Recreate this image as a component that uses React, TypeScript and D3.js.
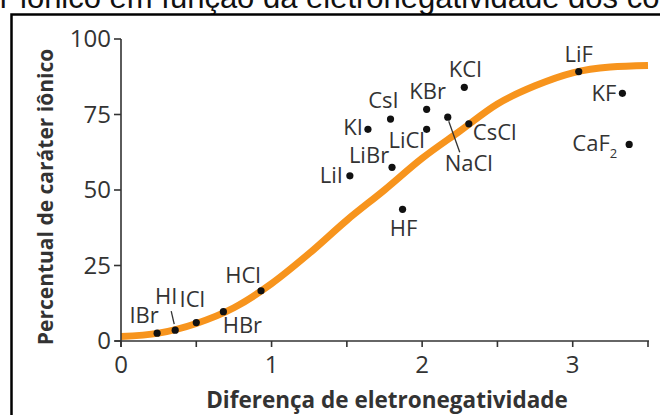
import React from "react";
import * as d3 from "d3";

// ---- data ----
const compounds = ["IBr", "HI", "ICl", "HBr", "HCl", "LiI", "LiBr", "KI", "CsI", "KBr", "LiCl", "NaCl", "KCl", "CsCl", "HF", "LiF", "KF", "CaF2"];
const enDiff = [0.24, 0.36, 0.5, 0.68, 0.93, 1.52, 1.8, 1.64, 1.79, 2.03, 2.03, 2.17, 2.28, 2.31, 1.87, 3.04, 3.33, 3.375];
const ionicPct = [2.6, 3.6, 6.1, 9.7, 16.6, 54.7, 57.5, 70.1, 73.5, 76.7, 70.1, 74.1, 84.0, 71.9, 43.6, 89.2, 82.0, 65.1];

const curveX = [0, 0.25, 0.5, 0.75, 1.0, 1.25, 1.5, 1.75, 2.0, 2.25, 2.5, 2.75, 3.0, 3.25, 3.5];
const curveY = [1.5, 2.6, 5.8, 11, 19, 29, 40, 50, 60.5, 69.5, 78.5, 84.5, 88.8, 90.7, 91.2];

const xTicks = [0, 0.5, 1, 1.5, 2, 2.5, 3, 3.5];
const xTickLabels = ["0", "", "1", "", "2", "", "3", ""];
const yTicks = [0, 25, 50, 75, 100];

const xTitle = "Diferença de eletronegatividade";
const yTitle = "Percentual de caráter iônico";
const titleHead = "caráter";
const titleTail = "iônico em função da eletronegatividade dos compostos";

// ---- layout (label placement relative to each dot) ----
const labelLayout: Record<string, { dx: number; dy: number; anchor: string; leader?: [number, number, number, number] }> = {
  IBr: { dx: -13, dy: -10, anchor: "middle" },
  HI: { dx: -9, dy: -26, anchor: "middle", leader: [-4, -19, -1, -6] },
  ICl: { dx: -4, dy: -16, anchor: "middle" },
  HBr: { dx: 19, dy: 21, anchor: "middle" },
  HCl: { dx: -18, dy: -8, anchor: "middle" },
  LiI: { dx: -7, dy: 7, anchor: "end" },
  LiBr: { dx: -23, dy: -4, anchor: "middle" },
  KI: { dx: -5, dy: 6, anchor: "end" },
  CsI: { dx: -7, dy: -11, anchor: "middle" },
  KBr: { dx: 1, dy: -10, anchor: "middle" },
  LiCl: { dx: -20, dy: 19, anchor: "middle" },
  NaCl: { dx: 21, dy: 54, anchor: "middle", leader: [1, 4, 12, 35] },
  KCl: { dx: 1, dy: -10, anchor: "middle" },
  CsCl: { dx: 4, dy: 16, anchor: "start" },
  HF: { dx: 1, dy: 27, anchor: "middle" },
  LiF: { dx: 0, dy: -10, anchor: "middle" },
  KF: { dx: -6, dy: 8, anchor: "end" },
  CaF2: { dx: -12, dy: 7, anchor: "end" },
};

const W = 660, H = 415;
const X0 = 121, X1 = 648, Y0 = 341, Y1 = 39;
const TEXT = "#333333";
const ORANGE = "#F7941D";
const LABEL_FONT = "'Open Sans', 'Noto Sans', sans-serif";

export default function App() {
  const x = d3.scaleLinear().domain([0, 3.5]).range([X0, X1]);
  const y = d3.scaleLinear().domain([0, 100]).range([Y0, Y1]);
  const line = d3
    .line<number>()
    .x((_, i) => x(curveX[i]))
    .y((v) => y(v))
    .curve(d3.curveMonotoneX);

  return (
    <svg width={W} height={H} style={{ position: "absolute", left: 0, top: 0, background: "#fff" }}>
      <rect x={0} y={0} width={W} height={H} fill="#fff" />
      {/* cut-off heading */}
      <text x={10} y={8} fontFamily="'Liberation Sans', Arial, sans-serif" fontSize={31} textAnchor="end" fill="#111">{titleHead}</text>
      <text x={20} y={8} fontFamily="'Liberation Sans', Arial, sans-serif" fontSize={31} fill="#111">{titleTail}</text>
      {/* frame */}
      <rect x={11.5} y={14.5} width={800} height={600} fill="none" stroke="#000" strokeWidth={2.5} />

      {/* curve */}
      <path d={line(curveY) || ""} fill="none" stroke={ORANGE} strokeWidth={7} />

      {/* axes */}
      <g stroke={TEXT} strokeWidth={1.6} fill="none">
        <line x1={X0} x2={X0} y1={Y1} y2={Y0 + 6} />
        <line x1={X0 - 6} x2={x(3.5) + 1} y1={Y0} y2={Y0} />
        {yTicks.map((t) => (
          <line key={"yt" + t} x1={X0 - 7} x2={X0} y1={y(t)} y2={y(t)} />
        ))}
        {xTicks.map((t) => (
          <line key={"xt" + t} x1={x(t)} x2={x(t)} y1={Y0} y2={Y0 + 6} />
        ))}
      </g>
      <g fontFamily={LABEL_FONT} fontSize={24} fill={TEXT}>
        {yTicks.map((t) => (
          <text key={"yl" + t} x={X0 - 10} y={y(t)} dy="0.35em" textAnchor="end">{t}</text>
        ))}
        {xTicks.map((t, i) => (
          <text key={"xl" + t} x={x(t)} y={Y0 + 32} textAnchor="middle">{xTickLabels[i]}</text>
        ))}
      </g>

      {/* axis titles */}
      <text x={387} y={408} textAnchor="middle" fontFamily={LABEL_FONT} fontWeight="bold" fontSize={22.5} fill={TEXT}>{xTitle}</text>
      <text transform="translate(53,197) rotate(-90)" textAnchor="middle" fontFamily={LABEL_FONT} fontWeight="bold" fontSize={21} fill={TEXT}>{yTitle}</text>

      {/* points */}
      {compounds.map((c, i) => {
        const px = x(enDiff[i]);
        const py = y(ionicPct[i]);
        const L = labelLayout[c];
        return (
          <g key={c}>
            {L.leader && (
              <line x1={px + L.leader[0]} y1={py + L.leader[1]} x2={px + L.leader[2]} y2={py + L.leader[3]} stroke={TEXT} strokeWidth={1.3} />
            )}
            <circle cx={px} cy={py} r={3.6} fill="#111" />
            <text x={px + L.dx} y={py + L.dy} textAnchor={L.anchor} fontFamily={LABEL_FONT} fontSize={22} fill={TEXT}>
              {c === "CaF2" ? (
                <>
                  CaF<tspan fontSize={13} dy={7}>2</tspan>
                </>
              ) : (
                c
              )}
            </text>
          </g>
        );
      })}
    </svg>
  );
}
